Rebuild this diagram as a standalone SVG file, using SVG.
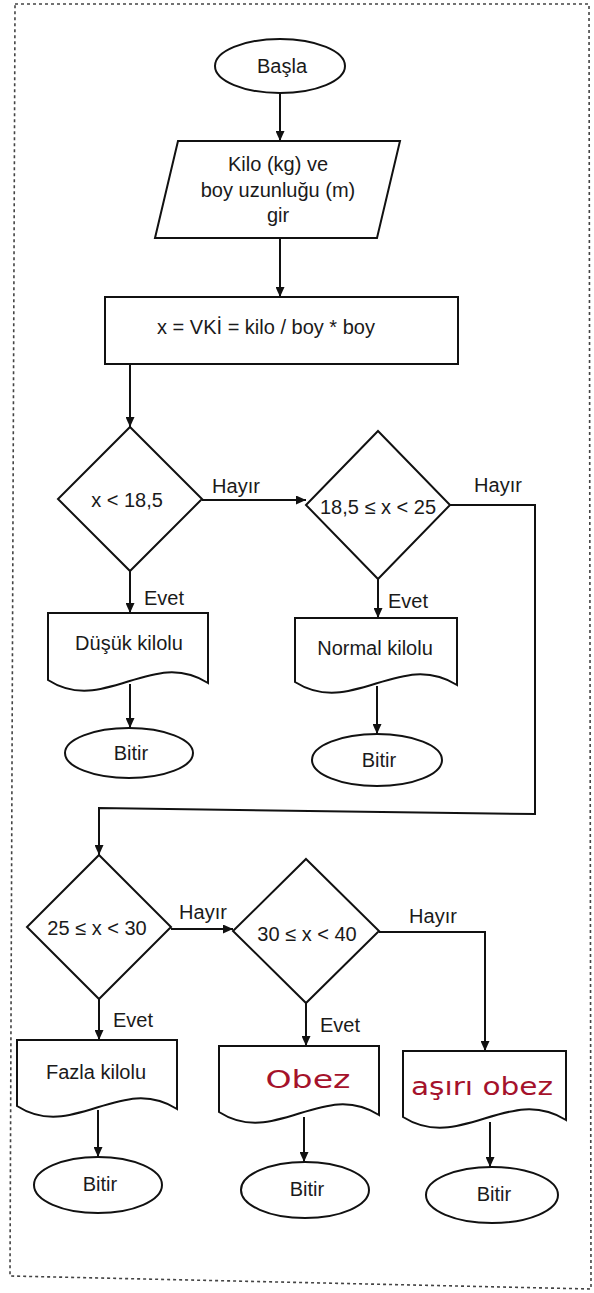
<svg xmlns="http://www.w3.org/2000/svg" width="594" height="1293" viewBox="0 0 594 1293">
  <defs>
    <marker id="arrow" markerUnits="userSpaceOnUse" markerWidth="10" markerHeight="9" refX="10" refY="4.5" orient="auto">
      <path d="M0,0 L10,4.5 L0,9 Z" fill="#111"/>
    </marker>
    <style>
      .shape { fill: #fff; stroke: #111; stroke-width: 2; }
      .conn { fill: none; stroke: #111; stroke-width: 2; }
      .arr { marker-end: url(#arrow); }
      .txt { font-family: "Liberation Sans", Arial, sans-serif; font-size: 20px; fill: #1a1a1a; text-anchor: middle; }
      .hand { font-family: "DejaVu Sans", "Liberation Sans", sans-serif; font-size: 24px; fill: #a5122b; text-anchor: middle; }
      .frame { fill: none; stroke: #444; stroke-width: 1.6; stroke-dasharray: 3 3; }
    </style>
  </defs>

  <rect width="594" height="1293" fill="#fff"/>

  <!-- dotted frame -->
  <path class="frame" d="M15,4 H589 L591,1289 L10,1276 Z"/>

  <!-- connectors -->
  <g id="connectors">
    <path class="conn arr" d="M280,93 V141"/>
    <path class="conn arr" d="M280,238 V297"/>
    <path class="conn arr" d="M130,364 V427"/>
    <path class="conn arr" d="M202,500 H306"/>
    <path class="conn arr" d="M130,571 V613"/>
    <path class="conn arr" d="M130,684 V728"/>
    <path class="conn arr" d="M378,579 V618"/>
    <path class="conn arr" d="M377,686 V734"/>
    <path class="conn arr" d="M450,505 H535 V814 L99,808 V855"/>
    <path class="conn arr" d="M171,929 H233"/>
    <path class="conn arr" d="M99,999 V1040"/>
    <path class="conn arr" d="M98,1110 V1157"/>
    <path class="conn arr" d="M379,932 H485 V1051"/>
    <path class="conn arr" d="M306,1003 V1046"/>
    <path class="conn arr" d="M304,1117 V1162"/>
    <path class="conn arr" d="M490,1122 V1167"/>

    <text class="txt" x="236" y="493">Hayır</text>
    <text class="txt" x="164" y="605">Evet</text>
    <text class="txt" x="498" y="492">Hayır</text>
    <text class="txt" x="408" y="608">Evet</text>
    <text class="txt" x="203" y="919">Hayır</text>
    <text class="txt" x="433" y="923">Hayır</text>
    <text class="txt" x="133" y="1027">Evet</text>
    <text class="txt" x="340" y="1032">Evet</text>
  </g>

  <!-- start -->
  <g id="start">
    <ellipse class="shape" cx="280" cy="66" rx="65" ry="27"/>
    <text class="txt" x="282" y="73">Başla</text>
  </g>

  <!-- input -->
  <g id="input">
    <polygon class="shape" points="178,141 400,141 377,238 155,238"/>
    <text class="txt" x="278" y="171">Kilo (kg) ve</text>
    <text class="txt" x="278" y="197">boy uzunluğu (m)</text>
    <text class="txt" x="278" y="222">gir</text>
  </g>

  <!-- process -->
  <g id="compute">
    <rect class="shape" x="105" y="297" width="353" height="67"/>
    <text class="txt" x="266" y="334">x = VKİ = kilo / boy * boy</text>
  </g>

  <!-- decisions -->
  <g id="dec1">
    <polygon class="shape" points="130,427 202,499 130,571 58,499"/>
    <text class="txt" x="127" y="507">x &lt; 18,5</text>
  </g>
  <g id="dec2">
    <polygon class="shape" points="378,431 450,505 378,579 306,505"/>
    <text class="txt" x="378" y="514">18,5 ≤ x &lt; 25</text>
  </g>
  <g id="dec3">
    <polygon class="shape" points="99,855 171,927 99,999 27,927"/>
    <text class="txt" x="97" y="935">25 ≤ x &lt; 30</text>
  </g>
  <g id="dec4">
    <polygon class="shape" points="306,859 379,931 306,1003 233,931"/>
    <text class="txt" x="307" y="941">30 ≤ x &lt; 40</text>
  </g>

  <!-- outputs (document shapes) -->
  <g id="out1">
    <path class="shape" d="M48,613 H208 V683 C152,647 104,716 48,680 Z"/>
    <text class="txt" x="129" y="650">Düşük kilolu</text>
  </g>
  <g id="out2">
    <path class="shape" d="M295,618 H457 V685 C400,649 352,718 295,682 Z"/>
    <text class="txt" x="375" y="655">Normal kilolu</text>
  </g>
  <g id="out3">
    <path class="shape" d="M17,1040 H177 V1109 C121,1073 73,1142 17,1106 Z"/>
    <text class="txt" x="96" y="1079">Fazla kilolu</text>
  </g>
  <g id="out4">
    <path class="shape" d="M219,1046 H379 V1115 C323,1079 275,1148 219,1112 Z"/>
    <text class="hand" x="308" y="1088" textLength="85" lengthAdjust="spacingAndGlyphs">Obez</text>
  </g>
  <g id="out5">
    <path class="shape" d="M403,1051 H566 V1120 C509,1084 460,1153 403,1117 Z"/>
    <text class="hand" x="482" y="1095" textLength="142" lengthAdjust="spacingAndGlyphs">aşırı obez</text>
  </g>

  <!-- terminals -->
  <g id="end1">
    <ellipse class="shape" cx="129" cy="753" rx="64" ry="25"/>
    <text class="txt" x="131" y="760">Bitir</text>
  </g>
  <g id="end2">
    <ellipse class="shape" cx="377" cy="760" rx="65" ry="26"/>
    <text class="txt" x="379" y="767">Bitir</text>
  </g>
  <g id="end3">
    <ellipse class="shape" cx="98" cy="1185" rx="64" ry="28"/>
    <text class="txt" x="100" y="1191">Bitir</text>
  </g>
  <g id="end4">
    <ellipse class="shape" cx="305" cy="1190" rx="64" ry="28"/>
    <text class="txt" x="307" y="1196">Bitir</text>
  </g>
  <g id="end5">
    <ellipse class="shape" cx="492" cy="1195" rx="66" ry="28"/>
    <text class="txt" x="494" y="1201">Bitir</text>
  </g>
</svg>
